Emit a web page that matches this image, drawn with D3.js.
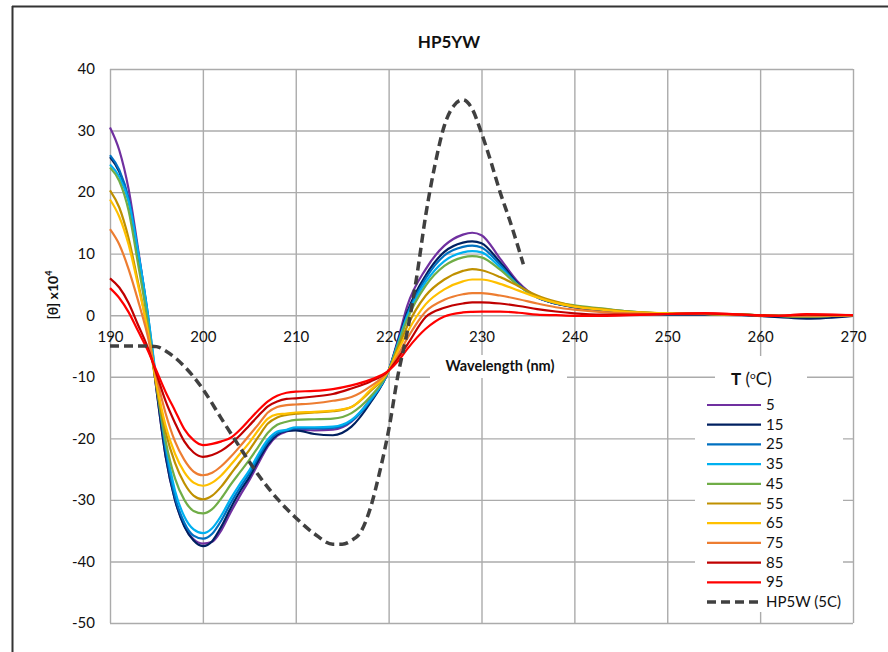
<!DOCTYPE html>
<html>
<head>
<meta charset="utf-8">
<script src="https://cdn.jsdelivr.net/npm/d3@7"></script>
<style>
  html, body { margin: 0; padding: 0; background: #fff; }
  svg { display: block; font-family: Lato, "Open Sans", "Liberation Sans", sans-serif; }
</style>
</head>
<body>
<svg id="chart" width="888" height="652"></svg>
<script>
// ---------- data ----------
const chartTitle = "HP5YW";
const xTicks = [190, 200, 210, 220, 230, 240, 250, 260, 270];
const yTicks = [40, 30, 20, 10, 0, -10, -20, -30, -40, -50];

const wavelengths = [190,191,192,193,194,195,196,197,198,199,200,201,202,203,204,205,206,207,208,209,210,
  212,214,216,218,220,221,222,224,226,228,229,230,232,234,236,238,240,243,246,250,254,258,262,265,270];

const temps = ["5", "15", "25", "35", "45", "55", "65", "75", "85", "95"];

const t5 = [30.5,26.8,20.5,11,0.5,-12,-23,-30,-34.2,-36.4,-37.1,-36.8,-34.9,-32,-29.3,-26.8,-24,-21.3,-19.6,-18.9,-18.6,
  -18.7,-18.6,-17.3,-13.7,-9,-4,1.5,7.5,11.3,13.1,13.4,13,9.2,5.3,2.9,1.9,1.3,0.8,0.5,0.2,0.2,0.1,-0.1,-0.2,0];
const t15 = [25.7,23.3,18.7,10,0.5,-12,-23,-30,-34.3,-36.6,-37.5,-36.7,-34.3,-31.3,-28.6,-26.3,-23.5,-21,-19.4,-18.8,-18.7,
  -19.3,-19.5,-18.1,-14.3,-9,-4.3,0.5,6.5,10.3,11.8,12,11.7,8.6,5.0,2.9,1.9,1.3,0.8,0.4,0.1,0.1,0,-0.3,-0.55,-0.1];
const t25 = [26,23.6,19,10.5,1,-11,-22,-29.5,-33.7,-35.8,-36.3,-35.5,-33.3,-30.5,-28,-25.7,-23,-20.6,-19.2,-18.7,-18.4,
  -18.4,-18.3,-17.2,-14,-9,-4.5,0.1,6,9.7,11.1,11.3,11,8.2,4.9,2.9,1.9,1.4,0.9,0.5,0.2,0.2,0.1,-0.1,-0.2,0];
const t35 = [24.5,22.5,18.5,10.5,1,-10.5,-21,-28.5,-32.7,-34.8,-35.4,-34.6,-32.5,-29.8,-27.4,-25.2,-22.5,-20.2,-18.9,-18.6,-18.2,
  -18.2,-18.1,-17,-13.8,-9,-4.6,-0.2,5.4,8.8,10.2,10.4,10.2,7.8,4.8,2.9,2,1.5,1,0.6,0.25,0.2,0.1,-0.1,-0.2,0];
const t45 = [24,21.8,17,8.5,-0.5,-11.5,-20.5,-26.5,-30,-31.8,-32.2,-31.5,-29.7,-27.5,-25.5,-23.5,-21.3,-19.1,-17.8,-17.3,-17.0,
  -16.9,-16.8,-15.9,-13.3,-9,-4.9,-0.7,4.8,8,9.4,9.6,9.4,7.4,4.8,3,2.1,1.6,1.1,0.6,0.3,0.2,0.1,-0.1,-0.2,0];
const t55 = [20.3,17.5,12.5,5.5,-2,-11.5,-19,-24,-27.3,-29.3,-29.9,-29.3,-27.8,-25.8,-23.8,-21.9,-19.7,-17.6,-16.6,-16.2,-16.0,
  -15.8,-15.6,-14.9,-12.4,-9,-5.4,-1.8,3.2,5.8,7.2,7.5,7.3,6.2,4.7,3.2,2.2,1.5,1,0.6,0.3,0.2,0.1,-0.1,-0.2,0];
const t65 = [18.8,16,11.5,5,-2,-11,-18,-22.5,-25.5,-27.2,-27.7,-27.2,-26,-24.3,-22.5,-20.7,-18.6,-16.8,-16.1,-16,-15.8,
  -15.7,-15.5,-14.9,-12.2,-9,-5.8,-2.8,1.8,4.2,5.5,5.8,5.8,5.1,4.0,2.9,2.0,1.4,0.9,0.5,0.3,0.2,0.1,-0.1,-0.1,0];
const t75 = [14,11.5,7.5,2.5,-3,-10,-16,-20.5,-23.5,-25.4,-26,-25.6,-24.5,-23,-21.3,-19.5,-17.7,-15.8,-14.9,-14.6,-14.5,
  -14.3,-13.9,-13.3,-11.6,-9,-6.5,-3.8,0.6,2.5,3.4,3.6,3.6,3.2,2.6,1.9,1.3,0.9,0.5,0.3,0.2,0.2,0.1,-0.1,-0.1,0];
const t85 = [6,4.5,2,-1.5,-5,-9.5,-14,-17.5,-20.5,-22.3,-23,-22.7,-22,-20.9,-19.5,-17.9,-16.3,-14.8,-14,-13.6,-13.5,
  -13.2,-12.8,-11.9,-10.8,-9,-7,-4.8,-0.3,1.2,1.9,2.1,2.1,1.9,1.5,1.0,0.6,0.3,0.1,0.1,0.2,0.3,0.1,-0.1,0.1,0];
const t95 = [4.4,2.8,0.5,-2.5,-5.5,-9,-12.5,-15.5,-18.5,-20.3,-21.1,-20.9,-20.5,-19.9,-18.6,-17,-15.4,-14,-13.1,-12.6,-12.4,
  -12.3,-12.0,-11.4,-10.5,-9,-7.5,-5.5,-2.2,-0.2,0.45,0.55,0.6,0.6,0.4,0.1,0,-0.1,-0.1,0,0.2,0.35,0.1,-0.1,0.2,0];

const hp5wLabel = "HP5W (5C)";
const hp5wWavelengths = [190,191,192,193,194,195,196,197,198,199,200,202,204,206,208,210,212,214,215,216,217,218,219,220,
  221,222,223,224,225,226,227,228,229,230,231,232,233,234,234.5];
const hp5wValues = [-5,-5,-5,-5,-5,-5.1,-5.8,-6.9,-8.3,-10,-12,-16.8,-21.5,-26,-29.8,-32.9,-35.5,-37.2,-37.2,-36.6,-35.2,-31.5,-25.7,-18.7,
  -9.8,-2.7,6,16.3,24.5,30.8,34,35,33.5,29.6,25,20,15.6,10.8,8.3];

const seriesValues = [t5, t15, t25, t35, t45, t55, t65, t75, t85, t95];
const seriesColors = ["#7030A0", "#002060", "#0070C0", "#00B0F0", "#70AD47", "#BF9000", "#FFC000", "#ED7D31", "#C00000", "#FF0000"];

// ---------- layout ----------
const svg = d3.select("#chart");
const pLeft = 110, pRight = 853, pTop = 69, pBottom = 623;
const x = d3.scaleLinear().domain([190, 270]).range([pLeft, pRight]);
const y = d3.scaleLinear().domain([-50, 40]).range([pBottom, pTop]);
const gridColor = "#ABABAB";
const textColor = "#111";
const plainFmt = d => String(d);

// outer chart border
svg.append("line").attr("x1", 12).attr("x2", 888).attr("y1", 6.5).attr("y2", 6.5).attr("stroke", "#333").attr("stroke-width", 2);
svg.append("line").attr("x1", 12.5).attr("x2", 12.5).attr("y1", 6).attr("y2", 652).attr("stroke", "#333").attr("stroke-width", 2);

// title
svg.append("text").attr("x", 449).attr("y", 48).attr("text-anchor", "middle")
  .attr("font-size", 17).attr("font-weight", "bold").attr("fill", textColor).text(chartTitle);

// vertical gridlines
const gx = svg.append("g").attr("transform", `translate(0,${pBottom})`)
  .call(d3.axisBottom(x).tickValues(xTicks).tickSize(-(pBottom - pTop)).tickFormat(""));
gx.select(".domain").remove();
gx.selectAll("line").attr("stroke", gridColor).attr("stroke-width", 1.4);

// horizontal gridlines + y labels
const gy = svg.append("g").attr("transform", `translate(${pLeft},0)`)
  .call(d3.axisLeft(y).tickValues(yTicks).tickFormat(plainFmt).tickSize(-(pRight - pLeft)).tickPadding(15));
gy.select(".domain").remove();
gy.selectAll("line").attr("stroke", gridColor).attr("stroke-width", 1.4);
gy.selectAll("text").attr("font-size", 15).attr("fill", textColor).attr("font-family", "Lato, sans-serif");

// x labels along zero line
const gxl = svg.append("g").attr("transform", `translate(0,${y(0)})`)
  .call(d3.axisBottom(x).tickValues(xTicks).tickFormat(plainFmt).tickSize(0).tickPadding(16));
gxl.select(".domain").remove();
gxl.selectAll("text").attr("font-size", 15).attr("fill", textColor).attr("font-family", "Lato, sans-serif");

// y axis title
const yt = svg.append("text").attr("transform", "translate(58,295) rotate(-90)").attr("text-anchor", "middle")
  .attr("font-size", 14).attr("font-weight", "bold").attr("fill", textColor);
yt.append("tspan").text("[θ] x10");
yt.append("tspan").attr("font-size", 9).attr("dy", -6).text("4");

// x axis title box
svg.append("rect").attr("x", 430).attr("y", 355).attr("width", 137).attr("height", 23).attr("fill", "#fff");
svg.append("text").attr("x", 500).attr("y", 371).attr("text-anchor", "middle")
  .attr("font-size", 14.5).attr("font-weight", "bold").attr("fill", textColor).text("Wavelength (nm)");

// ---------- series ----------
const line = d3.line().curve(d3.curveMonotoneX).x(d => x(d[0])).y(d => y(d[1]));
const plot = svg.append("g");
seriesValues.forEach((vals, i) => {
  plot.append("path")
    .datum(wavelengths.map((w, j) => [w, vals[j]]))
    .attr("d", line).attr("fill", "none")
    .attr("stroke", seriesColors[i]).attr("stroke-width", 2.2);
});
plot.append("path")
  .datum(hp5wWavelengths.map((w, j) => [w, hp5wValues[j]]))
  .attr("d", line).attr("fill", "none")
  .attr("stroke", "#404040").attr("stroke-width", 3.5).attr("stroke-dasharray", "9,5");

// ---------- legend ----------
svg.append("rect").attr("x", 715).attr("y", 356).attr("width", 92).attr("height", 40).attr("fill", "#fff");
svg.append("rect").attr("x", 695).attr("y", 392).attr("width", 148).attr("height", 220).attr("fill", "#fff");
const lt = svg.append("text").attr("x", 731).attr("y", 385).attr("font-size", 17).attr("fill", textColor);
lt.append("tspan").attr("font-weight", "bold").text("T");
lt.append("tspan").text(" (");
lt.append("tspan").attr("font-size", 10).attr("dy", -6).text("o");
lt.append("tspan").attr("dy", 6).text("C)");

const legendY0 = 405, legendStep = 19.7;
temps.forEach((t, i) => {
  const ly = legendY0 + i * legendStep;
  svg.append("line").attr("x1", 707).attr("x2", 761).attr("y1", ly).attr("y2", ly)
    .attr("stroke", seriesColors[i]).attr("stroke-width", 2.2);
  svg.append("text").attr("x", 766).attr("y", ly + 5).attr("font-size", 15).attr("fill", textColor).text(t);
});
{
  const ly = legendY0 + temps.length * legendStep;
  svg.append("line").attr("x1", 707).attr("x2", 761).attr("y1", ly).attr("y2", ly)
    .attr("stroke", "#404040").attr("stroke-width", 3.5).attr("stroke-dasharray", "9,5");
  svg.append("text").attr("x", 766).attr("y", ly + 5).attr("font-size", 15).attr("fill", textColor).text(hp5wLabel);
}
</script>
</body>
</html>
